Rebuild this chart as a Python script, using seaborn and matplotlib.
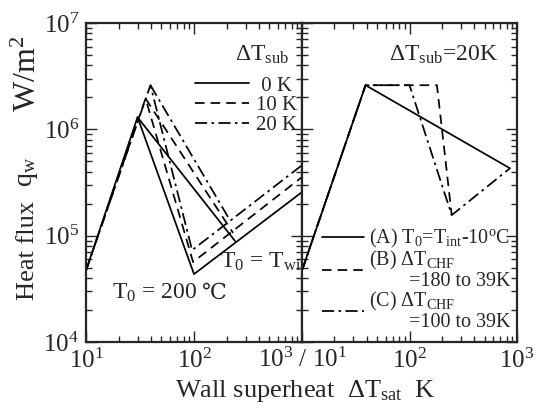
import numpy as np
import pandas as pd
import seaborn as sns
import matplotlib
matplotlib.use("Agg")
import matplotlib.pyplot as plt
from matplotlib.lines import Line2D
from matplotlib.ticker import FixedLocator, LogLocator, NullFormatter

sns.set_style("ticks")
plt.rcParams["font.family"] = ["Liberation Serif", "DejaVu Serif"]
plt.rcParams["mathtext.fontset"] = "stix"
plt.rcParams["mathtext.default"] = "regular"

# ---- left panel: boiling curves for three subcoolings -----------------
subcool_labels = [" 0 K", "10 K", "20 K"]
dT_start = 10.0            # wall superheat at start of nucleate boiling line, K
q_start = 4.7e4            # heat flux there, W/m2
dT_chf = [30.0, 35.6, 39.5]
q_chf = [1.3e6, 1.95e6, 2.6e6]
# quench from T0 = 200 C: minimum heat flux points
dT_min200 = [100.0, 98.0, 96.0]
q_min200 = [4.35e4, 5.65e4, 7.3e4]
# film boiling lines reach the axis end
dT_end = 1000.0
q_end = [2.57e5, 3.56e5, 4.6e5]
# quench from T0 = Tw,i: transition ends on the film boiling line
dT_twi = [240.0, 230.0, 215.0]
q_twi = [8.9e4, 1.06e5, 1.4e5]

# ---- right panel: dT_sub = 20 K, three transition models ---------------
case_labels = ["(A) $T_0$=$T_{int}$-10$^o$C",
               "(B) $\\Delta T_{CHF}$\n        =180 to 39K",
               "(C) $\\Delta T_{CHF}$\n        =100 to 39K"]
dT_A = [10.0, 39.0, 860.0]
q_A = [4.7e4, 2.6e6, 4.3e5]
dT_B = [10.0, 39.0, 180.0, 247.0]
q_B = [4.7e4, 2.6e6, 2.6e6, 1.56e5]
dT_C = [10.0, 39.0, 100.0, 247.0, 860.0]
q_C = [4.7e4, 2.6e6, 2.6e6, 1.56e5, 4.3e5]

styles = ["-", (0, (5.5, 3.5)), (0, (7, 2.5, 1.5, 2.5))]
LW = 1.25
FS_TICK = 18
FS_LAB = 19

W, H = 539, 408
fig = plt.figure(figsize=(W / 100, H / 100), dpi=100)
axL = fig.add_axes([86 / W, 66 / H, 216 / W, 319 / H])
axR = fig.add_axes([302 / W, 66 / H, 215 / W, 319 / H], sharey=axL)


def draw(ax, xs, ys, ls):
    df = pd.DataFrame({"dT": xs, "q": ys})
    sns.lineplot(data=df, x="dT", y="q", ax=ax, sort=False, estimator=None,
                 color="black", linewidth=LW, linestyle=ls)


for i in range(3):
    # T0 = 200 C path: nucleate -> CHF -> steep drop -> film boiling
    draw(axL, [dT_start, dT_chf[i], dT_min200[i], dT_end],
         [q_start, q_chf[i], q_min200[i], q_end[i]], styles[i])
    # T0 = Tw,i path: from CHF down to the film boiling line
    draw(axL, [dT_chf[i], dT_twi[i]], [q_chf[i], q_twi[i]], styles[i])

draw(axR, dT_A, q_A, styles[0])
draw(axR, dT_B, q_B, styles[1])
draw(axR, dT_C, q_C, styles[2])

for ax in (axL, axR):
    ax.set_xscale("log")
    ax.set_yscale("log")
    ax.set_xlim(10, 1000)
    ax.set_ylim(1e4, 1e7)
    ax.set_xlabel("")
    ax.set_ylabel("")
    ax.tick_params(which="both", direction="in", top=True, right=True,
                   width=1.0, labelsize=FS_TICK, pad=5)
    ax.tick_params(which="major", length=8)
    ax.tick_params(which="minor", length=4)
    ax.yaxis.set_minor_locator(LogLocator(base=10, subs=np.arange(2, 10)))
    ax.xaxis.set_minor_locator(LogLocator(base=10, subs=np.arange(2, 10)))
    ax.yaxis.set_minor_formatter(NullFormatter())
    ax.xaxis.set_minor_formatter(NullFormatter())
    for sp in ax.spines.values():
        sp.set_linewidth(1.6)
        sp.set_visible(True)

axL.xaxis.set_major_locator(FixedLocator([10, 100, 1000]))
axL.set_xticklabels(["$10^1$", "$10^2$", ""])
axR.xaxis.set_major_locator(FixedLocator([10, 100, 1000]))
axR.set_xticklabels(["", "$10^2$", "$10^3$"])
axL.yaxis.set_major_locator(FixedLocator([1e4, 1e5, 1e6, 1e7]))
axL.set_yticklabels(["$10^4$", "$10^5$", "$10^6$", "$10^7$"])
axR.tick_params(axis="y", labelleft=False)

# shared label at the panel boundary
axR.annotate("$10^3$ / $10^1$", xy=(0, 0), xycoords="axes fraction",
             xytext=(0, -6), textcoords="offset pixels",
             ha="center", va="top", fontsize=FS_TICK)

# legends
hL = [Line2D([], [], color="black", lw=LW, linestyle=s) for s in styles]
axL.text(0.815, 0.90, "$\\Delta T_{sub}$", transform=axL.transAxes,
         ha="center", va="center", fontsize=17)
legL = axL.legend(hL, subcool_labels, loc="upper right",
                  bbox_to_anchor=(1.0, 0.85),
                  frameon=False, fontsize=15,
                  handlelength=2.6, handletextpad=0.3, labelspacing=0.0,
                  borderpad=0, borderaxespad=0.25)

legR = axR.legend(hL, case_labels, loc="lower right",
                  bbox_to_anchor=(1.0, 0.012), frameon=False, fontsize=14.5,
                  handlelength=2.1, handletextpad=0.25, labelspacing=-0.05,
                  borderpad=0, borderaxespad=0.3)
for t in legR.get_texts():
    t.set_linespacing(1.0)

axR.text(0.66, 0.90, "$\\Delta T_{sub}$=20K", transform=axR.transAxes,
         ha="center", va="center", fontsize=17)
axL.text(0.995, 0.25, "$T_0$ = $T_{wi}$", transform=axL.transAxes,
         ha="right", va="center", fontsize=17)
t200 = axL.text(0.12, 0.155, "$T_0$ = 200", transform=axL.transAxes,
                ha="left", va="center", fontsize=17)
axL.annotate("\u2103", xy=(1, 0.5), xycoords=t200, xytext=(5, 0),
             textcoords="offset pixels", ha="left", va="center",
             fontsize=16, family=["DejaVu Serif", "Noto Sans CJK JP"])

# vertical axis title in three pieces along the left margin
fig.text(28 / W, 1 - 250 / H, "Heat flux", rotation=90,
         ha="center", va="center", fontsize=FS_LAB)
fig.text(28 / W, 1 - 172 / H, "$q_w$", rotation=90,
         ha="center", va="center", fontsize=FS_LAB + 1)
fig.text(28 / W, 1 - 74 / H, "W/m$^2$", rotation=90,
         ha="center", va="center", fontsize=23)
fig.text(305 / W, 1 - 391 / H, "Wall superheat  $\\Delta T_{sat}$  K",
         ha="center", va="center", fontsize=FS_LAB)

fig.savefig("out.png", dpi=100)
